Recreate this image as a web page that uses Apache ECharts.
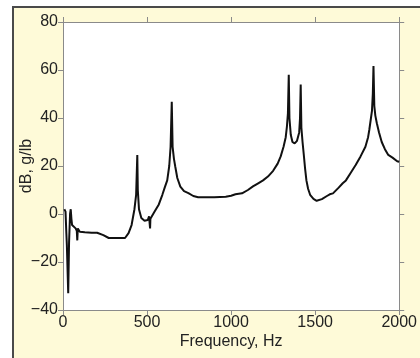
<!DOCTYPE html>
<html>
<head>
<meta charset="utf-8">
<script src="https://cdn.jsdelivr.net/npm/echarts@6/dist/echarts.min.js"></script>
<style>
  html, body { margin: 0; padding: 0; background: #fff; }
  #panel {
    position: absolute; left: 12px; top: 6px; width: 420px; height: 360px;
    background: #fefad8; border-left: 2px solid #4a4a4a; border-top: 2px solid #4a4a4a;
    box-sizing: border-box;
  }
  #chart { position: absolute; left: 0; top: 0; width: 420px; height: 358px; }
</style>
</head>
<body>
<div id="panel"></div>
<div id="chart"></div>
<script>
// frequency response
const freqHz = [8, 15, 20, 23, 27, 31, 36, 42, 46, 50, 54, 65, 75, 82, 85, 88, 100, 130, 170, 203,
  240, 272, 320, 369, 390, 408, 425, 435, 440, 442, 445, 452, 466, 485, 504, 512, 518, 520, 545, 570,
  591, 605, 620, 632, 640, 647, 652, 660, 668, 680, 698, 720, 746, 775, 804, 850, 900, 968, 1000, 1026,
  1065, 1100, 1130, 1161, 1190, 1219, 1250, 1277, 1295, 1312, 1325, 1332, 1338, 1343, 1347, 1355, 1365, 1378, 1392, 1405,
  1410, 1414, 1418, 1425, 1432, 1440, 1448, 1458, 1470, 1490, 1509, 1540, 1570, 1587, 1606, 1640, 1664, 1683, 1710, 1741,
  1770, 1799, 1815, 1822, 1832, 1838, 1843, 1847, 1852, 1858, 1867, 1880, 1896, 1915, 1935, 1960, 1988, 2000];
const levelDb = [2, 1, -8, -13, -13, -33, -12, 0, 2, -2, -4.6, -5, -6, -7, -11, -6, -7.4, -7.6, -7.8, -7.8,
  -8.8, -10, -10, -10, -8, -4.6, 2, 8, 20, 24.6, 10, 2, -1.7, -2.8, -2.5, -1, -6, -2, 1, 4,
  8, 11, 14, 20, 28, 46.8, 28, 23, 19.7, 15, 11.4, 9.5, 8.7, 7.5, 7, 7, 7, 7.2, 7.6, 8.2,
  8.6, 10, 11.5, 12.8, 14, 15.6, 18, 21, 24, 28, 32, 36.4, 42, 58, 40, 33, 30, 29.4, 30.5, 34,
  40, 54, 36, 30, 25, 19, 14, 10.5, 8, 6.3, 5.5, 6.2, 7.5, 8.2, 8.6, 11, 12.8, 14, 17, 20.4,
  24, 28, 32, 35, 40, 43, 50, 61.7, 45, 41, 37.8, 34, 30, 27, 24.6, 23.5, 22, 21.8];
const xTicks = [0, 2000, 500];   // min, max, interval
const yTicks = [-40, 80, 20];

const chart = echarts.init(document.getElementById('chart'));
const axisLine = { onZero: false, lineStyle: { color: '#8a8a8a', width: 1 } };
const axisTick = { length: 5, lineStyle: { color: '#8a8a8a' } };
const labelFont = { color: '#222', fontSize: 16, fontFamily: 'Liberation Sans' };

chart.setOption({
  animation: false,
  grid: { left: 63, top: 22, right: 13, bottom: 48, show: true, backgroundColor: '#fff', borderWidth: 0 },
  xAxis: [
    {
      type: 'value', min: xTicks[0], max: xTicks[1], interval: xTicks[2], position: 'bottom',
      name: 'Frequency, Hz', nameLocation: 'middle', nameGap: 24, nameMoveOverlap: false,
      nameTextStyle: labelFont,
      axisLine, axisTick, splitLine: { show: false },
      axisLabel: Object.assign({ margin: 5, formatter: v => String(v) }, labelFont)
    },
    {
      type: 'value', min: xTicks[0], max: xTicks[1], interval: xTicks[2], position: 'top',
      axisLine, axisTick, splitLine: { show: false }, axisLabel: { show: false }
    }
  ],
  yAxis: [
    {
      type: 'value', min: yTicks[0], max: yTicks[1], interval: yTicks[2], position: 'left',
      name: 'dB, g/lb', nameLocation: 'middle', nameGap: 28, nameMoveOverlap: false,
      nameTextStyle: labelFont,
      axisLine, axisTick, splitLine: { show: false },
      axisLabel: Object.assign({ margin: 5, formatter: v => String(v).replace('-', '\u2212') }, labelFont)
    },
    {
      type: 'value', min: yTicks[0], max: yTicks[1], interval: yTicks[2], position: 'right',
      axisLine, axisTick, splitLine: { show: false }, axisLabel: { show: false }
    }
  ],
  series: [{
    type: 'line',
    data: freqHz.map((f, i) => [f, levelDb[i]]),
    showSymbol: false,
    lineStyle: { color: '#111', width: 2 },
    z: 5
  }]
});
</script>
</body>
</html>
